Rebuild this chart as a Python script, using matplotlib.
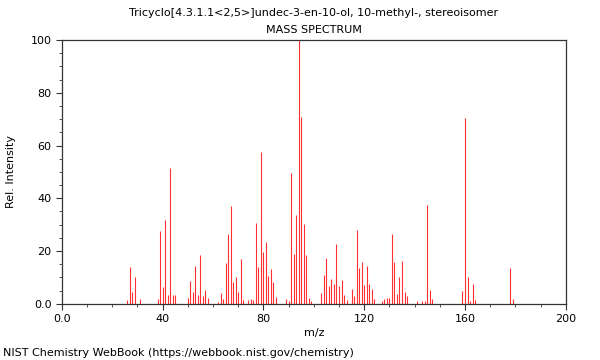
import matplotlib
matplotlib.use("Agg")
import matplotlib.pyplot as plt
from matplotlib.ticker import MultipleLocator, FixedLocator

# peak positions (m/z) and relative intensities
mz = [26, 27, 28, 29, 31, 38, 39, 40, 41, 42, 43, 44, 45,
      50, 51, 52, 53, 54, 55, 56, 57, 58,
      62, 63, 64, 65, 66, 67, 68, 69, 70, 71, 72, 74, 75, 76, 77, 78, 79,
      80, 81, 82, 83, 84, 85, 89, 90, 91, 92, 93, 94, 95, 96, 97, 98, 99,
      103, 104, 105, 106, 107, 108, 109, 110, 111, 112, 113, 115, 116, 117,
      118, 119, 120, 121, 122, 123, 124, 127, 128, 129, 130, 131, 132, 133,
      134, 135, 136, 137, 141, 143, 144, 145, 146, 147,
      159, 160, 161, 162, 163, 164, 178, 179]
intensity = [1.3, 13.9, 4.5, 10.3, 2.0, 1.8, 27.5, 6.3, 31.8, 3.3, 51.4, 3.4, 3.5,
             2.4, 8.8, 4.4, 14.4, 3.4, 18.6, 2.8, 5.4, 2.4,
             0.8, 4.0, 2.0, 15.4, 26.3, 37.2, 8.1, 10.3, 4.5, 17.0, 1.5, 1.3, 2.0, 1.4, 30.6, 14.0, 57.4,
             19.8, 23.5, 10.7, 13.3, 8.1, 2.6, 1.8, 1.1, 49.5, 18.9, 33.7, 100.0, 70.7, 30.2, 18.6, 2.3, 1.2,
             4.0, 11.0, 17.5, 6.8, 9.5, 7.6, 22.7, 6.8, 9.1, 3.4, 1.5, 5.8, 2.8, 27.9,
             13.6, 15.9, 7.1, 14.3, 7.5, 5.6, 1.8, 1.0, 2.0, 2.4, 2.4, 26.5, 15.9, 3.8,
             10.0, 16.3, 4.3, 2.8, 1.0, 1.0, 1.0, 37.5, 5.1, 1.9,
             4.9, 70.5, 10.0, 1.0, 7.6, 1.3, 13.5, 2.0]

x_ticks = [0, 40, 80, 120, 160, 200]
x_labels = ["0.0", "40", "80", "120", "160", "200"]
y_ticks = [0, 20, 40, 60, 80, 100]
y_labels = ["0.0", "20", "40", "60", "80", "100"]

fig = plt.figure(figsize=(6, 3.6), dpi=100)
ax = fig.add_axes([0.103, 0.156, 0.84, 0.733])

ax.vlines(mz, 0, intensity, colors="#ff3030", linewidth=0.8)

ax.set_xlim(0, 200)
ax.set_ylim(0, 100)
ax.xaxis.set_major_locator(FixedLocator(x_ticks))
ax.set_xticklabels(x_labels)
ax.yaxis.set_major_locator(FixedLocator(y_ticks))
ax.set_yticklabels(y_labels)
ax.xaxis.set_minor_locator(MultipleLocator(10))
ax.yaxis.set_minor_locator(MultipleLocator(5))
ax.tick_params(which="both", top=False, right=False, labelsize=8, color="#333333")
ax.tick_params(which="major", length=4)
ax.tick_params(which="minor", length=2.5)
for s in ax.spines.values():
    s.set_color("#333333")
    s.set_linewidth(0.9)

ax.set_xlabel("m/z", fontsize=8, labelpad=3)
ax.set_ylabel("Rel. Intensity", fontsize=8, labelpad=10)

fig.text(0.523, 0.963, "Tricyclo[4.3.1.1<2,5>]undec-3-en-10-ol, 10-methyl-, stereoisomer",
         ha="center", va="center", fontsize=8)
fig.text(0.523, 0.916, "MASS SPECTRUM", ha="center", va="center", fontsize=8)
fig.text(0.005, 0.019, "NIST Chemistry WebBook (https://webbook.nist.gov/chemistry)",
         ha="left", va="center", fontsize=8)

fig.savefig("out.png", dpi=100)
